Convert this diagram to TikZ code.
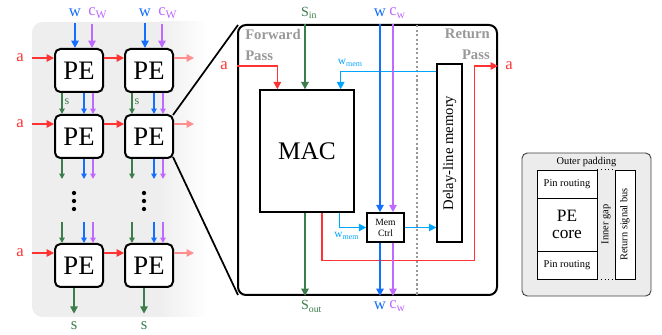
\documentclass[tikz,border=0pt]{standalone}
\usepackage{fontspec}
\setmainfont{Liberation Serif}
\usetikzlibrary{calc, positioning, arrows.meta}
\definecolor{sigA}{RGB}{255, 51, 51}
\definecolor{sigW}{RGB}{20, 110, 255}
\definecolor{sigC}{RGB}{190, 105, 255}
\definecolor{sigS}{RGB}{60, 125, 75}
\definecolor{sigM}{RGB}{0, 165, 255}
\newcommand{\fs}[1]{\fontsize{#1}{#1}\selectfont}

\begin{document}
\begin{tikzpicture}[x=0.75pt, y=-0.75pt, >={Triangle[length=5.5pt, width=5.5pt]},
  pebox/.style={draw, line width=1.5pt, rounded corners=4pt, fill=white,
    minimum width=36pt, minimum height=32.25pt, inner sep=0pt, font=\fs{20}},
  lbl/.style={inner sep=1pt, font=\fs{12.5}},
  sig/.style={line width=1.2pt, ->},
  sigsm/.style={line width=1pt, -{Triangle[length=4pt, width=4pt]}},
  blockbox/.style={draw, line width=1pt, fill=white, inner sep=0pt},
  passlbl/.style={inner sep=0pt, font=\fontsize{11}{15.5}\selectfont\bfseries, text=black!40},
  legtxt/.style={inner sep=0pt, font=\fs{7.8}}]
  \useasboundingbox (0,0) rectangle (662,335);

  % PE array panel
  \fill[gray!13, rounded corners=8pt] (32,22) rectangle (170,317);
  \shade[left color=gray!13, right color=white] (160,22) rectangle (208,317);

  % zoomed PE
  \node[draw, line width=1.5pt, rounded corners=6pt, fill=white,
    minimum width=194.25pt, minimum height=202.5pt] (zoom) at (367.5,160) {};
  \draw[line width=1.3pt] (173,115) -- ($(zoom.north west)+(1,1)$);
  \draw[line width=1.3pt] (173,157) -- ($(zoom.south west)+(1,-1)$);

  \foreach \c/\x in {1/79, 2/149} {
    \foreach \r/\y in {1/70.5, 2/136.5, 3/265.5}
      \node[pebox] (pe\r\c) at (\x,\y) {PE};

    % w and c_w inputs
    \node[lbl, sigW] (w\c) at (\x-4,13) {w};
    \node[lbl, sigC] (cw\c) at (\x+13,13) {c\rlap{\textsubscript{W}}};
    \draw[sig, sigW, shorten <=3pt] (w\c) -- (w\c |- pe1\c.north);
    \draw[sig, sigC, shorten <=3pt] (cw\c) -- (cw\c |- pe1\c.north);

    % row 1 -> row 2
    \draw[sigsm, sigS] ($(pe1\c.south)+(-17,0)$) -- ($(pe2\c.north)+(-17,0)$);
    \draw[sigsm, sigW] ($(pe1\c.south)+(5,0)$) -- ($(pe2\c.north)+(5,0)$);
    \draw[sigsm, sigC] ($(pe1\c.south)+(14,0)$) -- ($(pe2\c.north)+(14,0)$);
    \node[inner sep=0pt, sigS, font=\fs{9}] at (\x-12,102) {s};

    % row 2 -> dots -> row 3
    \foreach \dx/\col in {-17/sigS, 5/sigW, 14/sigC} {
      \draw[sigsm, \col] ($(pe2\c.south)+(\dx,0)$) -- ++(0,20);
      \draw[sigsm, \col] ($(pe3\c.north)+(\dx,-21)$) -- ($(pe3\c.north)+(\dx,0)$);
    }
    \foreach \dy in {192, 200, 208}
      \fill ($(pe2\c.south)+(-5,\dy-158)$) circle[radius=1.6pt];

    % s output
    \node[lbl, sigS] (s\c) at (\x-5,326) {s};
    \draw[sig, sigS, shorten >=5pt] (pe3\c.south -| s\c) -- (s\c);
  }

  % a inputs along rows
  \foreach \r/\y in {1/58, 2/124, 3/253} {
    \node[lbl, sigA] (a\r) at (20,\y) {a};
    \draw[sig, sigA, shorten <=5pt] (a\r) -- (a\r -| pe\r1.west);
    \draw[sig, sigA] (pe\r1.east |- a\r) -- (pe\r2.west |- a\r);
    \draw[sig, sigA!55] (pe\r2.east |- a\r) -- ++(20,0);
  }

  % inside the PE
  \node[passlbl, anchor=north west, align=left] (fwd) at (245,29) {Forward\\Pass};
  \node[passlbl, anchor=north east, align=right] (ret) at (490,29) {Return\\Pass};
  \draw[black!40, line width=1.6pt, dash pattern=on 1.6pt off 1.8pt]
    ($(zoom.north west)+(180,1)$) -- ($(zoom.south west)+(180,-1)$);

  \node[blockbox, minimum width=70.5pt, minimum height=91.5pt, font=\fs{19}] (mac) at (307,151) {MAC};
  \node[blockbox, minimum width=18.75pt, minimum height=133.5pt] (dlm) at (449.5,153) {};
  \node[rotate=90, inner sep=0pt, font=\fs{11}] at (dlm) {Delay-line memory};
  \node[blockbox, line width=1.2pt, minimum width=27.75pt, minimum height=21.75pt,
    align=center, font=\fontsize{7.2}{8.3}\selectfont] (mc) at (385.5,227.5) {Mem\\Ctrl};

  % s path
  \node[lbl, sigS, font=\fs{10.5}] (sin) at (305,13) {S\rlap{\textsubscript{in}}};
  \node[lbl, sigS, font=\fs{10.5}] (sout) at (305,306.5) {S\rlap{\textsubscript{out}}};
  \draw[sig, sigS] (sin |- zoom.north) -- (sin |- mac.north);
  \draw[sig, sigS] (sout |- mac.south) -- (sout |- zoom.south);

  % a path
  \node[lbl, sigA] (ain) at (224,66) {a};
  \node[lbl, sigA] (aout) at (509,66) {a};
  \draw[sig, sigA] (zoom.west |- ain) -| ($(mac.north west)+(18,0)$);
  \draw[sig, sigA] ($(mac.south)+(15,0)$) |- ($(dlm.south east)+(12,18)$) |- (zoom.east |- aout);

  % w_mem path
  \node[lbl, sigM, font=\fs{8.5}] at (342,63) {w\rlap{\textsubscript{mem}}};
  \node[lbl, sigM, font=\fs{8.5}] at (338.5,236) {w\rlap{\textsubscript{mem}}};
  \draw[sig, sigM] ($(dlm.north west)+(0,8)$) -| ($(mac.north east)+(-14,0)$);
  \draw[sig, sigM] ($(mac.south east)+(-15,0)$) |- (mc.west);
  \draw[sig, sigM] (mc.east) -- (mc.east -| dlm.west);

  % w and c_w through the PE
  \node[lbl, sigW] (wt) at (380,13) {w};
  \node[lbl, sigC] (ct) at (393,13) {c\rlap{\textsubscript{w}}};
  \node[lbl, sigW] (wb) at (380,306) {w};
  \node[lbl, sigC] (cb) at (393,306) {c\rlap{\textsubscript{w}}};
  \draw[sig, sigW] (wt |- zoom.north) -- (wt |- mc.north);
  \draw[sig, sigW] (wb |- mc.south) -- (wb |- zoom.south);
  \draw[sig, sigC] (ct |- zoom.north) -- (ct |- mc.north);
  \draw[sig, sigC] (cb |- mc.south) -- (cb |- zoom.south);

  % layout legend
  \node[draw=black!75, fill=gray!15, line width=0.7pt, rounded corners=4pt,
    minimum width=96.75pt, minimum height=107.25pt] (legend) at (586.5,224.5) {};
  \node[legtxt] at ($(legend.north)+(0,9)$) {Outer padding};
  \node[blockbox, line width=0.7pt, minimum width=45pt, minimum height=21pt, font=\fs{7.8}] (pintop) at (567,184) {Pin routing};
  \node[blockbox, line width=0.7pt, minimum width=45pt, minimum height=39.75pt, align=center, font=\fs{13}] (core) at (567,224.5) {PE\\core};
  \node[blockbox, line width=0.7pt, minimum width=45pt, minimum height=21pt, font=\fs{7.8}] (pinbot) at (567,265) {Pin routing};
  \node[blockbox, line width=0.7pt, minimum width=15pt, minimum height=81.75pt] (bus) at (625,224.5) {};
  \node[legtxt, rotate=90] at (bus) {Return signal bus};
  \draw[dotted, line width=0.7pt] (pintop.north east) -- (bus.north west);
  \draw[dotted, line width=0.7pt] (pinbot.south east) -- (bus.south west);
  \node[legtxt, rotate=90] at ($(core.east)!0.5!(core.east -| bus.west)$) {Inner gap};
\end{tikzpicture}
\end{document}
